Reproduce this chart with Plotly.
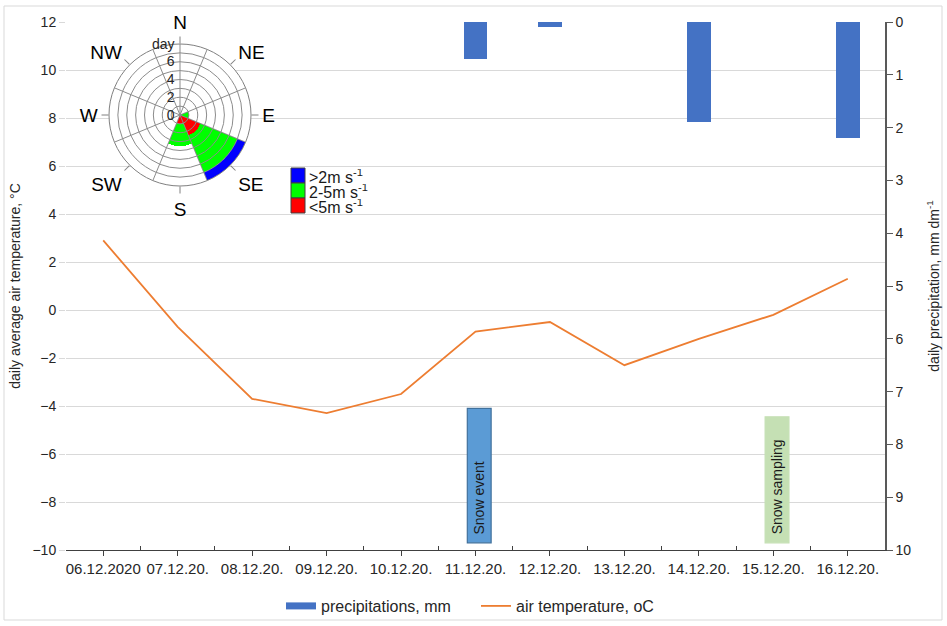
import plotly.graph_objects as go

# ---------------- data ----------------
dates = ["06.12.2020", "07.12.20.", "08.12.20.", "09.12.20.", "10.12.20.", "11.12.20.",
         "12.12.20.", "13.12.20.", "14.12.20.", "15.12.20.", "16.12.20."]
temperature = [2.9, -0.7, -3.7, -4.3, -3.5, -0.9, -0.5, -2.3, -1.2, -0.2, 1.3]
precipitation = [0, 0, 0, 0, 0, 0.7, 0.1, 0, 1.9, 0, 2.2]

directions = ["N", "NE", "E", "SE", "S", "SW", "W", "NW"]
wind_low = [0, 0, 0, 2.5, 1, 0, 0, 0]      # red
wind_mid = [0, 0, 1, 4.5, 2.5, 0, 0, 0]    # green
wind_high = [0, 0, 0, 1, 0, 0, 0, 0]       # blue
wind_labels = ["&gt;2m s<sup>-1</sup>", "2-5m s<sup>-1</sup>", "&lt;5m s<sup>-1</sup>"]
wind_colors = ["#0000FF", "#00FF00", "#FF0000"]

events = ["Snow event", "Snow sampling"]
event_dates = ["11.12.20.", "15.12.20."]
event_fill = ["#5B9BD5", "#C5E0B4"]
event_line = ["#41719C", "#C5E0B4"]

# ---------------- geometry helpers ----------------
W, H = 947, 626
ML, MR, MT, MB = 66, 62, 22, 76
PW, PH = W - ML - MR, H - MT - MB

def px(x):
    return (x - ML) / PW

def py(y):
    return (H - MB - y) / PH

FONT = "Liberation Sans, Arial, sans-serif"
TXT = "#262626"
BAR_COLOR = "#4472C4"

fig = go.Figure()

fig.add_trace(go.Bar(x=dates, y=precipitation, yaxis="y2", name="precipitations, mm",
                     marker=dict(color=BAR_COLOR, line=dict(width=0)), width=0.32, showlegend=False))
# legend-only entry drawn as a wide flat bar symbol
fig.add_trace(go.Scatter(x=[None], y=[None], yaxis="y2", name="precipitations, mm", mode="lines",
                         line=dict(color=BAR_COLOR, width=7), hoverinfo="skip"))
fig.add_trace(go.Scatter(x=dates, y=temperature, name="air temperature, oC", mode="lines",
                         line=dict(color="#ED7D31", width=1.8)))
# invisible trace for boundary ticks axis
fig.add_trace(go.Scatter(x=dates, y=[None] * len(dates), xaxis="x2", showlegend=False,
                         hoverinfo="skip", mode="lines"))

# wind rose
for vals, col in zip([wind_low, wind_mid, wind_high], wind_colors[::-1]):
    fig.add_trace(go.Barpolar(r=vals, theta=directions, subplot="polar", showlegend=False,
                              marker=dict(color=col, line=dict(width=0)), hoverinfo="skip"))
fig.add_trace(go.Scatterpolar(r=[0], theta=[0], subplot="polar2", mode="markers",
                              marker=dict(opacity=0), showlegend=False, hoverinfo="skip"))

cx, cy, R = 180, 115, 71
dom_x = [px(cx - R), px(cx + R)]
dom_y = [py(cy + R), py(cy - R)]

fig.update_layout(
    width=W, height=H,
    margin=dict(l=ML, r=MR, t=MT, b=MB, autoexpand=False),
    paper_bgcolor="white", plot_bgcolor="white",
    font=dict(family=FONT, color=TXT, size=14),
    bargap=0,
    xaxis=dict(type="category", categoryorder="array", categoryarray=dates, range=[-0.5, 10.5],
               showline=True, linecolor="#404040", linewidth=1, ticks="outside", ticklen=5,
               tickcolor="#404040", showgrid=False, tickfont=dict(size=15, color=TXT),
               automargin=False),
    xaxis2=dict(type="category", categoryorder="array", categoryarray=dates, range=[-0.5, 10.5],
                overlaying="x", anchor="y", side="bottom", tickson="boundaries", ticks="inside",
                ticklen=4, tickcolor="#404040", showticklabels=False, showgrid=False,
                showline=False, automargin=False),
    yaxis=dict(range=[-10, 12], dtick=2, showgrid=True, gridcolor="#d9d9d9", zeroline=False,
               ticks="outside", ticklen=6, tickcolor="#d9d9d9", showline=False,
               tickfont=dict(size=14, color=TXT), automargin=False,
               title=dict(text="daily average air temperature, \u00b0C", font=dict(size=14, color=TXT),
                          standoff=8)),
    yaxis2=dict(range=[10, 0], dtick=1, overlaying="y", side="right", showgrid=False, zeroline=False,
                showline=True, linecolor="#595959", linewidth=1.5, ticks="outside", ticklen=6,
                tickcolor="#595959", tickfont=dict(size=14, color=TXT), automargin=False,
                title=dict(text="daily precipitation, mm dm<sup>-1</sup>", font=dict(size=14, color=TXT),
                           standoff=19)),
    legend=dict(orientation="h", x=px(476), xanchor="center", y=py(606), yanchor="middle",
                font=dict(size=16, color=TXT), traceorder="normal", bgcolor="rgba(0,0,0,0)",
                entrywidthmode="pixels", entrywidth=150),
    polar=dict(domain=dict(x=dom_x, y=dom_y), bgcolor="white", barmode="stack", bargap=0,
               angularaxis=dict(type="category", categoryarray=directions, rotation=90,
                                direction="clockwise", showgrid=False, ticks="outside", ticklen=7,
                                tickcolor="#808080", showline=True, linecolor="#808080",
                                tickfont=dict(size=19, color="black")),
               radialaxis=dict(range=[0, 8], visible=False)),
    polar2=dict(domain=dict(x=dom_x, y=dom_y), bgcolor="rgba(0,0,0,0)",
                angularaxis=dict(rotation=90, direction="clockwise", tickmode="array",
                                 tickvals=[22.5 + 45 * k for k in range(8)], showticklabels=False,
                                 ticks="", showgrid=True, gridcolor="#8c8c8c", showline=False),
                radialaxis=dict(range=[0, 8], tickmode="array", tickvals=list(range(9)),
                                ticktext=["0", "", "2", "", "4", "", "6", "", "day"], angle=90,
                                tickangle=90, side="counterclockwise", showline=True,
                                linecolor="#8c8c8c", gridcolor="#8c8c8c",
                                ticks="", tickfont=dict(size=14, color="#262626"))),
)

shapes = []
annotations = []
# figure border
shapes.append(dict(type="rect", xref="paper", yref="paper", x0=px(4), x1=px(942), y0=py(620), y1=py(6),
                   line=dict(color="#d9d9d9", width=1), fillcolor="rgba(0,0,0,0)", layer="below"))

# wind legend
for i, (lab, col) in enumerate(zip(wind_labels, wind_colors)):
    top = 168 + 15 * i
    shapes.append(dict(type="rect", xref="paper", yref="paper", x0=px(291), x1=px(305),
                       y0=py(top + 15), y1=py(top), fillcolor=col, line=dict(color="#404040", width=1)))
    annotations.append(dict(xref="paper", yref="paper", x=px(307), y=py(top + 8), text=lab,
                            showarrow=False, xanchor="left", yanchor="middle", height=14,
                            font=dict(size=16, color="#1a1a1a")))

# event boxes
tops = [-4.1, -4.45]
for name, d, fc, lc, top in zip(events, event_dates, event_fill, event_line, tops):
    i = dates.index(d)
    shapes.append(dict(type="rect", xref="x", yref="y", x0=i - 0.11, x1=i + 0.21, y0=-9.7, y1=top,
                       fillcolor=fc, line=dict(color=lc, width=1.2)))
    annotations.append(dict(xref="x", yref="y", x=i + 0.05, y=-9.45, text=name, textangle=-90,
                            showarrow=False, xanchor="center", yanchor="bottom",
                            font=dict(size=14, color="#1a1a1a", family=FONT)))

fig.update_layout(shapes=shapes, annotations=annotations)

fig.write_html("out.html")
